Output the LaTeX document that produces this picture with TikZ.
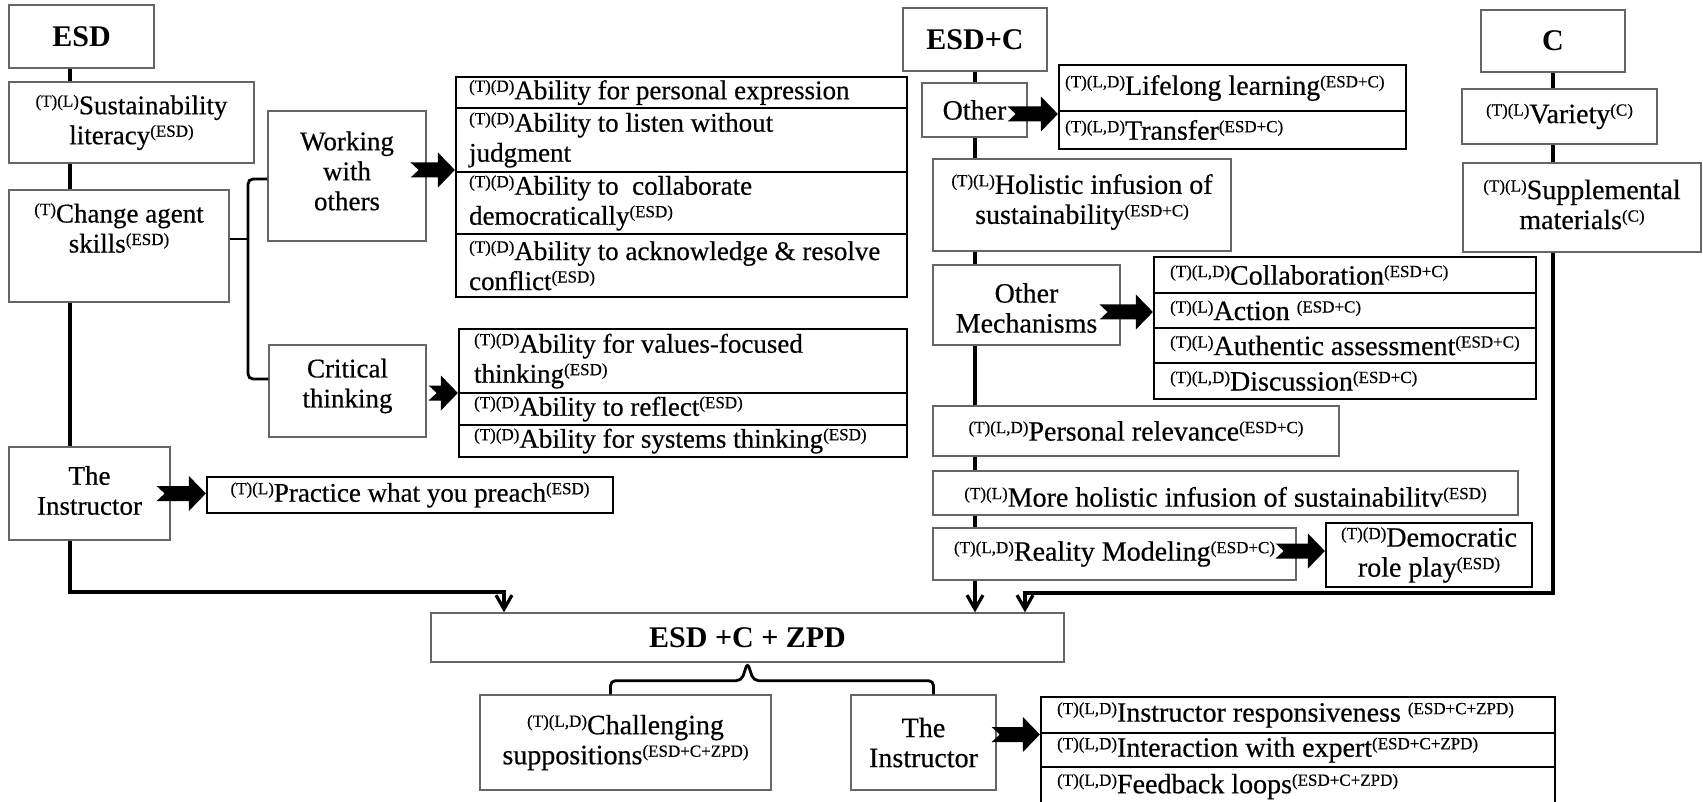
\documentclass[tikz,border=0pt]{standalone}
\usepackage{fontspec}
\setmainfont{Liberation Serif}[UprightFeatures={FakeBold=0.45}]
\usetikzlibrary{calc,arrows.meta}
\pgfdeclarelayer{bg}
\pgfdeclarelayer{lines}
\pgfsetlayers{bg,lines,main}

% small raised tags such as (T)(L) and (ESD)
\newcommand\tg[1]{\raisebox{7.5pt}{\fontsize{17}{17}\selectfont #1}}

% box with centred text: name, style, x1, y1, x2, y2, text shift, text style, text
\newcommand\bx[9]{%
  \node[#2, minimum width={(#5-#3)*1pt}, minimum height={(#6-#4)*1pt}] (#1) at ({(#3+#5)/2},{(#4+#6)/2}) {};
  \node[txt, #8] (#1-t) at ($(#1.center)+(0,#7)$) {#9};}

% list row with left aligned text: name, x1, y1, x2, y2, padding, text style, text
\newcommand\rw[8]{%
  \node[row, minimum width={(#4-#2)*1pt}, minimum height={(#5-#3)*1pt}] (#1) at ({(#2+#4)/2},{(#3+#5)/2}) {};
  \node[txt, #7, anchor=west, align=left] (#1-t) at ($(#1.west)+(#6,0)$) {#8};}

% block arrow with notched tail: from node, to node, tail offset x, y
\newcommand\fatarrow[4]{%
  \fill let \p1=($(#1.east)+(#3,#4)$), \p2=(#2.west) in
    (\x1,{\y1+7.5pt}) -- ({\x2-17pt},{\y1+7.5pt}) -- ({\x2-17pt},{\y1+17.5pt}) -- (\x2,\y1)
    -- ({\x2-17pt},{\y1-17.5pt}) -- ({\x2-17pt},{\y1-7.5pt}) -- (\x1,{\y1-7.5pt}) -- ({\x1+8pt},\y1) -- cycle;}

\begin{document}
\begin{tikzpicture}[x=1pt,y=-1pt,
  box/.style={draw=black!60, line width=1.3pt, fill=white, inner sep=0pt},
  row/.style={draw=black, line width=2.2pt, fill=white, inner sep=0pt},
  txt/.style={inner sep=0pt, align=center},
  lefttext/.style={font=\fontsize{27}{30}\selectfont},
  midtext/.style={font=\fontsize{28}{30}\selectfont},
  headtext/.style={font=\fontsize{30}{32}\selectfont\bfseries},
  trunk/.style={line width=3.2pt},
  openhead/.style={-{Straight Barb[length=14pt,width=16pt]}},
  brace/.style={line width=2.8pt, rounded corners=5pt}]

\useasboundingbox (0,0) rectangle (1703,802);
\begin{pgfonlayer}{bg}
  \fill[white] (0,0) rectangle (1703,802);
\end{pgfonlayer}

\coordinate (tl) at (70,592);
\coordinate (al) at (504,0);
\coordinate (tc) at (0,593);
\coordinate (ac) at (1025,0);
\coordinate (bx) at (248,0);

% ---------------- ESD column ----------------
\bx{esd}{box}{9}{5}{154}{68}{0}{headtext}{ESD}
\bx{sus}{box}{9}{82}{254}{163}{0}{lefttext}{\tg{(T)(L)}Sustainability\\literacy\tg{(ESD)}}
\bx{chg}{box}{9}{190}{229}{302}{-18}{lefttext}{\tg{(T)}Change agent\\skills\tg{(ESD)}}
\bx{wk}{box}{268}{111}{426}{241}{-5}{lefttext}{Working\\with\\others}
\bx{crit}{box}{269}{345}{426}{437}{-5}{lefttext}{Critical\\thinking}
\bx{ins}{box}{9}{447}{170}{540}{-3}{lefttext}{The\\Instructor}

\rw{wa}{456}{77}{907}{108}{14}{lefttext}{\tg{(T)(D)}Ability for personal expression}
\rw{wb}{456}{108}{907}{172}{14}{lefttext}{\tg{(T)(D)}Ability to listen without\\judgment}
\rw{wc}{456}{172}{907}{234}{14}{lefttext}{\tg{(T)(D)}Ability to~ collaborate\\democratically\tg{(ESD)}}
\rw{wd}{456}{234}{907}{297}{14}{lefttext}{\tg{(T)(D)}Ability to acknowledge \& resolve\\conflict\tg{(ESD)}}

\rw{ca}{459}{329}{907}{393}{16}{lefttext}{\tg{(T)(D)}Ability for values-focused\\thinking\tg{(ESD)}}
\rw{cb}{459}{393}{907}{425}{16}{lefttext}{\tg{(T)(D)}Ability to reflect\tg{(ESD)}}
\rw{cx}{459}{425}{907}{457}{16}{lefttext}{\tg{(T)(D)}Ability for systems thinking\tg{(ESD)}}

\bx{prac}{row}{207}{477}{613}{513}{0}{lefttext}{\tg{(T)(L)}Practice what you preach\tg{(ESD)}}

% ---------------- ESD+C column ----------------
\bx{esdc}{box}{903}{8}{1047}{71}{0}{headtext}{ESD+C}
\bx{oth}{box}{922}{83}{1027}{137}{0}{midtext}{Other}
\rw{la}{1059}{65}{1406}{111}{7}{midtext}{\tg{(T)(L,D)}Lifelong learning\tg{(ESD+C)}}
\rw{lb}{1059}{111}{1406}{149}{7}{midtext}{\tg{(T)(L,D)}Transfer\tg{(ESD+C)}}
\bx{hol}{box}{933}{159}{1231}{251}{-3}{midtext}{\tg{(T)(L)}Holistic infusion of\\sustainability\tg{(ESD+C)}}
\bx{om}{box}{933}{265}{1120}{345}{3}{midtext}{Other\\Mechanisms}
\rw{ma}{1154}{257}{1536}{293}{17}{midtext}{\tg{(T)(L,D)}Collaboration\tg{(ESD+C)}}
\rw{mb}{1154}{293}{1536}{328}{17}{midtext}{\tg{(T)(L)}Action \tg{(ESD+C)}}
\rw{mc}{1154}{328}{1536}{363}{17}{midtext}{\tg{(T)(L)}Authentic assessment\tg{(ESD+C)}}
\rw{md}{1154}{363}{1536}{399}{17}{midtext}{\tg{(T)(L,D)}Discussion\tg{(ESD+C)}}
\bx{pers}{box}{933}{406}{1339}{456}{0}{midtext}{\tg{(T)(L,D)}Personal relevance\tg{(ESD+C)}}

\node[box, minimum width=585pt, minimum height=44pt] (mh) at ({(933+1518)/2},{(471+515)/2}) {};
\begin{scope}
  \clip ($(mh.north west)+(2,2)$) rectangle ($(mh.south east)+(-2,-9)$);
  \node[txt, midtext, anchor=base] (mh-t) at ($(mh.south)+(0,-9)$)
    {\tg{(T)(L)}More holistic infusion of sustainability\tg{(ESD)}};
\end{scope}

\bx{real}{box}{933}{528}{1296}{580}{0}{midtext}{\tg{(T)(L,D)}Reality Modeling\tg{(ESD+C)}}
\bx{dem}{row}{1326}{523}{1532}{587}{0}{midtext}{\tg{(T)(D)}Democratic\\role play\tg{(ESD)}}

% ---------------- C column ----------------
\bx{cbox}{box}{1481}{10}{1625}{72}{0}{headtext}{C}
\bx{var}{box}{1462}{89}{1657}{144}{0}{midtext}{\tg{(T)(L)}Variety\tg{(C)}}
\bx{sup}{box}{1463}{163}{1701}{252}{-3}{midtext}{\tg{(T)(L)}Supplemental\\materials\tg{(C)}}

% ---------------- combined level ----------------
\bx{zpd}{box}{431}{613}{1064}{662}{0}{headtext}{ESD +C + ZPD}
\bx{chal}{box}{480}{695}{771}{790}{0}{midtext}{\tg{(T)(L,D)}Challenging\\suppositions\tg{(ESD+C+ZPD)}}
\bx{ins2}{box}{851}{695}{996}{790}{0}{midtext}{The\\Instructor}
\rw{ba}{1041}{697}{1555}{733}{17}{midtext}{\tg{(T)(L,D)}Instructor responsiveness \tg{(ESD+C+ZPD)}}
\rw{bb}{1041}{733}{1555}{767}{17}{midtext}{\tg{(T)(L,D)}Interaction with expert\tg{(ESD+C+ZPD)}}
\rw{bc}{1041}{767}{1555}{806}{17}{midtext}{\tg{(T)(L,D)}Feedback loops\tg{(ESD+C+ZPD)}}

% ---------------- trunk lines ----------------
\begin{pgfonlayer}{lines}
  \draw[trunk, openhead] (esd.south -| tl) -- (tl) -| (zpd.north -| al);
  \draw[trunk, openhead] (esdc.south) -- (esdc.south |- zpd.north);
  \draw[trunk, openhead] (cbox.south) -- (cbox.south |- tc) -| (zpd.north -| ac);
\end{pgfonlayer}

% ---------------- braces ----------------
\draw[brace] ($(wk.west)+(0,3)$) -- ($(wk.west -| bx)+(0,3)$) -- ($(crit.west -| bx)+(0,-12)$) -- ($(crit.west)+(0,-12)$);
\draw[line width=2.8pt] ($(chg.east)+(0,-7)$) -- ($(chg.east -| bx)+(-1,-7)$);
\draw[brace] ($(chal.north)+(-15,0)$) |- ($(zpd.south)+(-6,18)$) -- (zpd.south)
  -- ($(zpd.south)+(6,18)$) -| ($(ins2.north)+(10,0)$);

% ---------------- block arrows ----------------
\fatarrow{wk}{wb}{-16}{-6}
\fatarrow{crit}{cb}{2}{2}
\fatarrow{ins}{prac}{-14}{0}
\fatarrow{oth}{lb}{-20}{4}
\fatarrow{om}{mb}{-21}{7}
\fatarrow{real}{dem}{-21}{-3}
\fatarrow{ins2}{bb}{-5}{-8}
\end{tikzpicture}
\end{document}
